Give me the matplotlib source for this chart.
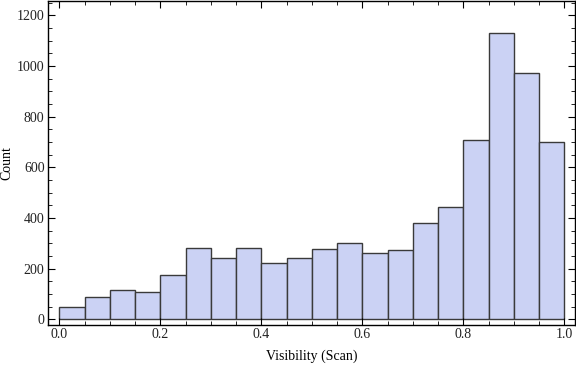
import matplotlib
matplotlib.use("Agg")
import matplotlib.pyplot as plt
from matplotlib.ticker import MultipleLocator

# histogram of visibility, bin width 0.05
binEdges = [round(i * 0.05, 2) for i in range(21)]
counts = [47, 87, 114, 107, 174, 280, 241, 280, 221, 241,
          276, 300, 260, 272, 379, 442, 706, 1129, 971, 699]

plt.rcParams["font.family"] = ["Liberation Serif", "DejaVu Serif"]
plt.rcParams["font.size"] = 10

figure = plt.figure(figsize=(5.76, 3.66), dpi=100)
axes = figure.add_axes([48 / 576, 41 / 366, 527 / 576, 324 / 366])
axes.bar(binEdges[:-1], counts, width=0.05, align="edge",
         color="#cbd2f4", edgecolor="#3a3a3a", linewidth=1)
axes.set_xlim(-0.0224, 1.021)
axes.set_ylim(-22.5, 1256)
axes.xaxis.set_major_locator(MultipleLocator(0.2))
axes.xaxis.set_minor_locator(MultipleLocator(0.05))
axes.yaxis.set_major_locator(MultipleLocator(200))
axes.yaxis.set_minor_locator(MultipleLocator(50))
axes.xaxis.set_major_formatter(matplotlib.ticker.FormatStrFormatter("%.1f"))
axes.tick_params(which="both", direction="in", top=True, right=True, colors="black",
                 labelcolor="#222222", pad=2.5)
axes.tick_params(which="major", length=5, width=0.8)
axes.tick_params(which="minor", length=3, width=0.6)
for spine in axes.spines.values():
    spine.set_linewidth(1)
axes.set_xlabel("Visibility (Scan)")
axes.set_ylabel("Count")
axes.xaxis.set_label_coords(0.5, -0.075)
axes.yaxis.set_label_coords(-0.066, 0.5)
figure.savefig("out.png", dpi=100)
